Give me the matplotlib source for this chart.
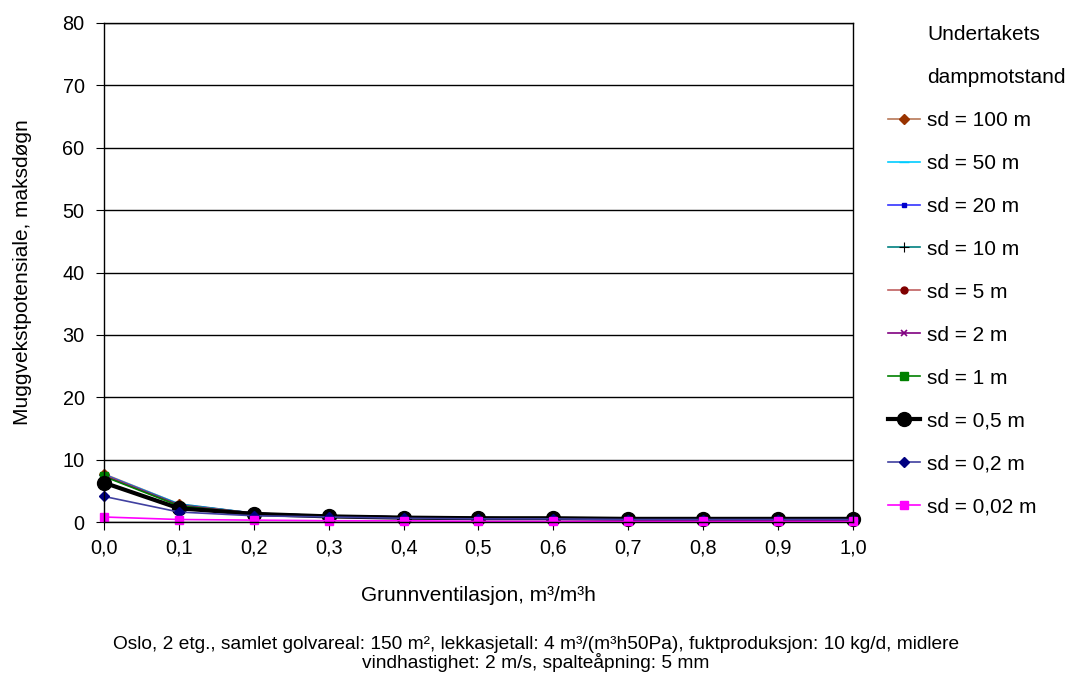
import matplotlib
matplotlib.use("Agg")
import matplotlib.pyplot as plt
from matplotlib.lines import Line2D

plt.rcParams['font.family'] = ['Liberation Sans', 'DejaVu Sans']

x = [0.0, 0.1, 0.2, 0.3, 0.4, 0.5, 0.6, 0.7, 0.8, 0.9, 1.0]
x_tick_labels = ["0,0", "0,1", "0,2", "0,3", "0,4", "0,5", "0,6", "0,7", "0,8", "0,9", "1,0"]

labels = ["sd = 100 m", "sd = 50 m", "sd = 20 m", "sd = 10 m", "sd = 5 m",
          "sd = 2 m", "sd = 1 m", "sd = 0,5 m", "sd = 0,2 m", "sd = 0,02 m"]

sd100 = [7.7, 2.9, 1.4, 1.0, 0.8, 0.7, 0.6, 0.5, 0.5, 0.5, 0.5]
sd50 = [7.6, 2.9, 1.4, 1.0, 0.8, 0.7, 0.6, 0.5, 0.5, 0.5, 0.5]
sd20 = [7.6, 2.8, 1.4, 1.0, 0.8, 0.7, 0.6, 0.5, 0.5, 0.5, 0.5]
sd10 = [7.5, 2.8, 1.4, 1.0, 0.8, 0.7, 0.6, 0.5, 0.5, 0.5, 0.5]
sd5 = [7.5, 2.7, 1.4, 1.0, 0.8, 0.7, 0.6, 0.5, 0.5, 0.5, 0.5]
sd2 = [7.4, 2.7, 1.3, 1.0, 0.8, 0.6, 0.6, 0.5, 0.5, 0.5, 0.5]
sd1 = [7.3, 2.6, 1.3, 0.9, 0.8, 0.6, 0.6, 0.5, 0.5, 0.5, 0.5]
sd05 = [6.3, 2.2, 1.3, 0.9, 0.7, 0.6, 0.6, 0.5, 0.5, 0.5, 0.5]
sd02 = [4.1, 1.6, 1.0, 0.8, 0.6, 0.5, 0.5, 0.4, 0.4, 0.4, 0.4]
sd002 = [0.8, 0.4, 0.3, 0.2, 0.2, 0.1, 0.1, 0.1, 0.1, 0.1, 0.1]

series = [sd100, sd50, sd20, sd10, sd5, sd2, sd1, sd05, sd02, sd002]

styles = [
    dict(color="#b87858", marker="D", ms=5, mfc="#993300", mec="#993300", lw=1.2),
    dict(color="#00ccff", marker="_", ms=7, mfc="#00ccff", mec="#00ccff", lw=1.2),
    dict(color="#3333ff", marker="s", ms=2.5, mfc="#0000cc", mec="#0000cc", lw=1.2),
    dict(color="#008080", marker="+", ms=7, mfc="black", mec="black", lw=1.2, mew=0.8),
    dict(color="#c06060", marker="o", ms=5, mfc="#800000", mec="#800000", lw=1.2),
    dict(color="#800080", marker="x", ms=5, mfc="#800080", mec="#800080", lw=1.2, mew=1.2),
    dict(color="#008000", marker="s", ms=6, mfc="#008000", mec="#008000", lw=1.2),
    dict(color="black", marker="o", ms=10, mfc="black", mec="black", lw=3),
    dict(color="#4040a0", marker="D", ms=5, mfc="#000080", mec="#000080", lw=1.2),
    dict(color="#ff00ff", marker="s", ms=6, mfc="#ff00ff", mec="#ff00ff", lw=1.2),
]

fig = plt.figure(figsize=(10.72, 6.78), dpi=100)
ax = fig.add_axes([104/1072, 1-522/678, (853-104)/1072, (522-23)/678])

handles = []
for y, lab, st in zip(series, labels, styles):
    h, = ax.plot(x, y, label=lab, clip_on=False, **st)
    handles.append(h)

ax.set_xlim(0, 1.0)
ax.set_ylim(0, 80)
ax.set_xticks(x)
ax.set_xticklabels(x_tick_labels)
ax.set_yticks(range(0, 81, 10))
ax.yaxis.grid(True, color="black", lw=1)
ax.set_axisbelow(True)
for sp in ax.spines.values():
    sp.set_color("black")
    sp.set_linewidth(1)
ax.tick_params(axis="both", labelsize=14.3, direction="out", length=6, color="black")
ax.tick_params(axis="y", pad=8)
ax.tick_params(axis="x", pad=6)
ax.set_xlabel("Grunnventilasjon, m³/m³h", fontsize=15)
ax.set_ylabel("Muggvekstpotensiale, maksdøgn", fontsize=15)
ax.xaxis.set_label_coords(0.5, (522-586)/499)
ax.yaxis.set_label_coords((32-104)/749, 0.5)

dummy = [Line2D([], [], color="none"), Line2D([], [], color="none")]
fig.legend(dummy + handles, ["Undertakets", "dampmotstand"] + labels,
           loc="upper left", bbox_to_anchor=(888/1072, 1-25/678),
           frameon=False, fontsize=15, labelspacing=1.15,
           handlelength=1.55, handletextpad=0.34, borderpad=0, borderaxespad=0)

fig.text(536/1072, 1-654/678,
         "Oslo, 2 etg., samlet golvareal: 150 m², lekkasjetall: 4 m³/(m³h50Pa), fuktproduksjon: 10 kg/d, midlere\nvindhastighet: 2 m/s, spalteåpning: 5 mm",
         ha="center", va="center", fontsize=13.8, linespacing=0.95)

fig.savefig("out.png", dpi=100)
